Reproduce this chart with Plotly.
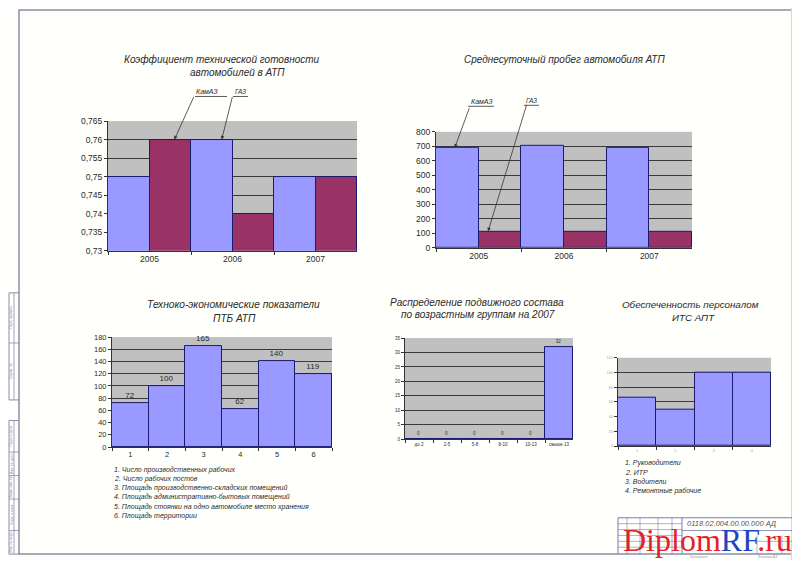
import plotly.graph_objects as go

# ---------------- data ----------------
years = ["2005", "2006", "2007"]
ktg_kamaz = [0.75, 0.76, 0.75]
ktg_gaz = [0.76, 0.74, 0.75]
ktg_ticks = [0.73, 0.735, 0.74, 0.745, 0.75, 0.755, 0.76, 0.765]

run_kamaz = [690, 700, 692]
run_gaz = [113, 113, 113]
run_ticks = [0, 100, 200, 300, 400, 500, 600, 700, 800]

tep_cats = ["1", "2", "3", "4", "5", "6"]
tep_vals = [72, 100, 165, 62, 140, 119]
tep_ticks = [0, 20, 40, 60, 80, 100, 120, 140, 160, 180]
tep_legend = [
    "1. Число производственных рабочих",
    "2. Число рабочих постов",
    "3. Площадь производственно-складских помещений",
    "4. Площадь административно-бытовых помещений",
    "5. Площадь стоянки на одно автомобиле место хранения",
    "6. Площадь территории",
]

age_cats = ["до 2", "2-5", "5-8", "8-10", "10-13", "свыше 13"]
age_vals = [0, 0, 0, 0, 0, 32]
age_ticks = [0, 5, 10, 15, 20, 25, 30, 35]

staff_cats = ["1", "2", "3", "4"]
staff_vals = [66, 50, 100, 100]
staff_ticks = [0, 20, 40, 60, 80, 100, 120]
staff_legend = ["1. Руководители", "2. ИТР", "3. Водители", "4. Ремонтные рабочие"]

# ---------------- helpers ----------------
# the page body has an 8px margin, so the figure is drawn 8px in and
# all window-pixel positions are shifted by OFF
OFF = 8
W, H = 800 - OFF, 565 - OFF
def px(x):
    return (x - OFF) / W
def py(y):
    return 1 - (y - OFF) / H
def dx(a, b):
    return [px(a), px(b)]
def dy(top, bottom):
    return [py(bottom), py(top)]

BLUE = "#9999FF"
RED = "#993366"
EDGE = "#1a1a6e"
TXT = "#2a2a2a"
FONT = "Liberation Sans"

fig = go.Figure()

def bar(x, y, color, xa, ya, text=None, tsize=8):
    fig.add_trace(go.Bar(
        x=x, y=y, xaxis=xa, yaxis=ya,
        marker=dict(color=color, line=dict(color=EDGE, width=1)),
        text=text, textposition="outside" if text is not None else None,
        textfont=dict(size=tsize, color=TXT, family=FONT),
        cliponaxis=False, showlegend=False, hoverinfo="skip",
    ))

bar(years, ktg_kamaz, BLUE, "x", "y")
bar(years, ktg_gaz, RED, "x", "y")
bar(years, run_kamaz, BLUE, "x2", "y2")
bar(years, run_gaz, RED, "x2", "y2")
bar(tep_cats, tep_vals, BLUE, "x3", "y3", text=[str(v) for v in tep_vals], tsize=8)
bar(age_cats, age_vals, BLUE, "x4", "y4", text=[str(v) for v in age_vals], tsize=4.5)
bar(staff_cats, staff_vals, BLUE, "x5", "y5")

def xaxis(dom, anchor, size, color=TXT):
    return dict(domain=dom, anchor=anchor, type="category", showline=True,
                linecolor="#333", linewidth=1, ticks="outside", ticklen=3,
                tickcolor="#333", tickson="boundaries", showgrid=False,
                tickangle=0,
                tickfont=dict(size=size, color=color, family=FONT), fixedrange=True)

def yaxis(dom, anchor, rng, ticks, size, color=TXT, labels=None):
    d = dict(domain=dom, anchor=anchor, range=rng, tickmode="array", tickvals=ticks,
             showline=True, linecolor="#333", linewidth=1, ticks="outside",
             ticklen=3, tickcolor="#333", showgrid=True, gridcolor="#3a3a3a",
             gridwidth=0.8, zeroline=False,
             tickfont=dict(size=size, color=color, family=FONT), fixedrange=True)
    if labels is not None:
        d["ticktext"] = labels
    return d

ktg_labels = [("%g" % t).replace(".", ",") for t in ktg_ticks]

fig.update_layout(
    width=W, height=H, margin=dict(l=0, r=0, t=0, b=0),
    paper_bgcolor="#fffffc", plot_bgcolor="#C0C0C0",
    barmode="group", bargap=0, bargroupgap=0,
    font=dict(family=FONT, color=TXT),
    xaxis=xaxis(dx(108, 357), "y", 8.5),
    yaxis=yaxis(dy(118, 250), "x", [0.73, 0.765], ktg_ticks, 8.5, labels=ktg_labels),
    xaxis2=xaxis(dx(436, 692), "y2", 8.5),
    yaxis2=yaxis(dy(129, 247), "x2", [0, 800], run_ticks, 8.5),
    xaxis3=xaxis(dx(112, 332), "y3", 7.5),
    yaxis3=yaxis(dy(338, 450), "x3", [0, 180], tep_ticks, 7.5),
    xaxis4=xaxis(dx(405, 573), "y4", 4.5),
    yaxis4=yaxis(dy(339, 442), "x4", [0, 35], age_ticks, 4.5),
    xaxis5=xaxis(dx(618, 771), "y5", 4, color="#aaaaaa"),
    yaxis5=yaxis(dy(359, 449), "x5", [0, 120], staff_ticks, 4, color="#aaaaaa"),
)

ann = []
def text(x, y, s, size=11, color=TXT, xanchor="center", italic=True, angle=0, family=FONT):
    ann.append(dict(x=px(x), y=py(y), xref="paper", yref="paper",
                    text=("<i>%s</i>" % s) if italic else s, showarrow=False,
                    xanchor=xanchor, yanchor="middle", textangle=angle,
                    font=dict(size=size, color=color, family=family)))

# titles
text(222, 55, "Коэффициент технической готовности", size=10)
text(237, 69, "автомобилей в АТП", size=10)
text(564, 55, "Среднесуточный пробег автомобиля АТП", size=10)
text(233, 305, "Техноко-экономические показатели", size=10.2)
text(234, 319, "ПТБ АТП", size=10.2)
text(477, 303, "Распределение подвижного состава", size=10)
text(478, 315, "по возрастным группам на 2007", size=10)
text(690, 305, "Обеспеченность персоналом", size=9.8)
text(693, 318, "ИТС АПТ", size=9.8)

# legends
for i, s in enumerate(tep_legend):
    text(112, 473 + i * 9.4, s, size=7, xanchor="left")
for i, s in enumerate(staff_legend):
    text(623, 466 + i * 9.5, s, size=7, xanchor="left")

# leader labels
def leader(xa, ya, x, y, ax, ay):
    ann.append(dict(x=x, y=y, xref=xa, yref=ya, ax=ax, ay=ay, text="",
                    showarrow=True, arrowhead=2, arrowsize=0.9, arrowwidth=0.8,
                    arrowcolor="#333", standoff=0, startstandoff=0))

leader("x", "y", 0.3, ktg_gaz[0], 20, -44)
leader("x", "y", 0.87, ktg_kamaz[1], 11, -44)
text(207, 88, "КамАЗ", size=7)
text(240, 88, "ГАЗ", size=6.5)
leader("x2", "y2", -0.28, run_kamaz[0], 15, -41)
leader("x2", "y2", 0.11, run_gaz[0], 39, -128)
text(482, 98, "КамАЗ", size=7)
text(531, 97, "ГАЗ", size=6.5)

shapes = []
def line(x0, y0, x1, y1, color="#333", width=0.8):
    shapes.append(dict(type="line", xref="paper", yref="paper",
                       x0=px(x0), y0=py(y0), x1=px(x1), y1=py(y1),
                       line=dict(color=color, width=width)))

# underlines of leader labels
line(195, 93, 227, 93)
line(233, 93, 248, 93)
line(468, 103, 494, 103)
line(524, 102, 539, 102)

# drawing frame
FR = "#8c8cac"
shapes.append(dict(type="rect", xref="paper", yref="paper",
                   x0=px(19), y0=py(559), x1=px(794), y1=py(5),
                   line=dict(color=FR, width=1.5)))
line(792, 1, 792, 565, "#d8d8d8", 2)

# left stamp strip
for (t, b) in [(293, 402), (423, 559)]:
    line(9, t, 9, b, FR, 1)
    line(14, t, 14, b, FR, 0.8)
    line(9, t, 19, t, FR, 1)
    line(9, b, 19, b, FR, 1)
line(9, 344, 19, 344, FR, 0.8)
for yy in [455, 479, 503, 535]:
    line(9, yy, 19, yy, FR, 0.8)
strip_labels = [(318, "Перв. примен."), (373, "Справ. №"),
                (439, "Подп. и дата"), (467, "Инв. № дубл."), (491, "Взам. инв. №"),
                (519, "Подп. и дата"), (547, "Инв. № подл.")]
for yy, s in strip_labels:
    text(11.5, yy, s, size=3.5, color="#8888aa", italic=False, angle=-90)

# title block
TB = "#7a7ab8"
line(618, 522, 794, 522, TB, 1)
line(618, 522, 618, 559, TB, 1)
for xx in [627, 640, 658, 672]:
    line(xx, 522, xx, 559, TB, 0.6)
line(682, 522, 682, 559, TB, 1)
for yy in [528, 534, 540, 546, 552]:
    line(618, yy, 682, yy, TB, 0.6)
line(682, 535, 794, 535, TB, 0.8)
line(757, 540, 757, 559, TB, 0.6)
line(782, 540, 782, 559, TB, 0.6)
line(757, 546, 794, 546, TB, 0.6)
text(732, 528, "0118.02.004.00.00.000 АД", size=7.5, color="#555")
text(698, 561.5, "Копировал", size=3.5, color="#999", italic=True)
text(767, 561.5, "Формат А3", size=3.5, color="#999", italic=True)

# watermark
ann.append(dict(x=px(707), y=py(545), xref="paper", yref="paper", showarrow=False,
                text="<span style='color:#e3212b'>Diplom</span><span style='color:#1c44c4'>RF</span><span style='color:#e3212b'>.ru</span>",
                font=dict(size=32, family="Liberation Serif"), xanchor="center", yanchor="middle"))

fig.update_layout(annotations=ann, shapes=shapes)
fig.write_html("out.html")
